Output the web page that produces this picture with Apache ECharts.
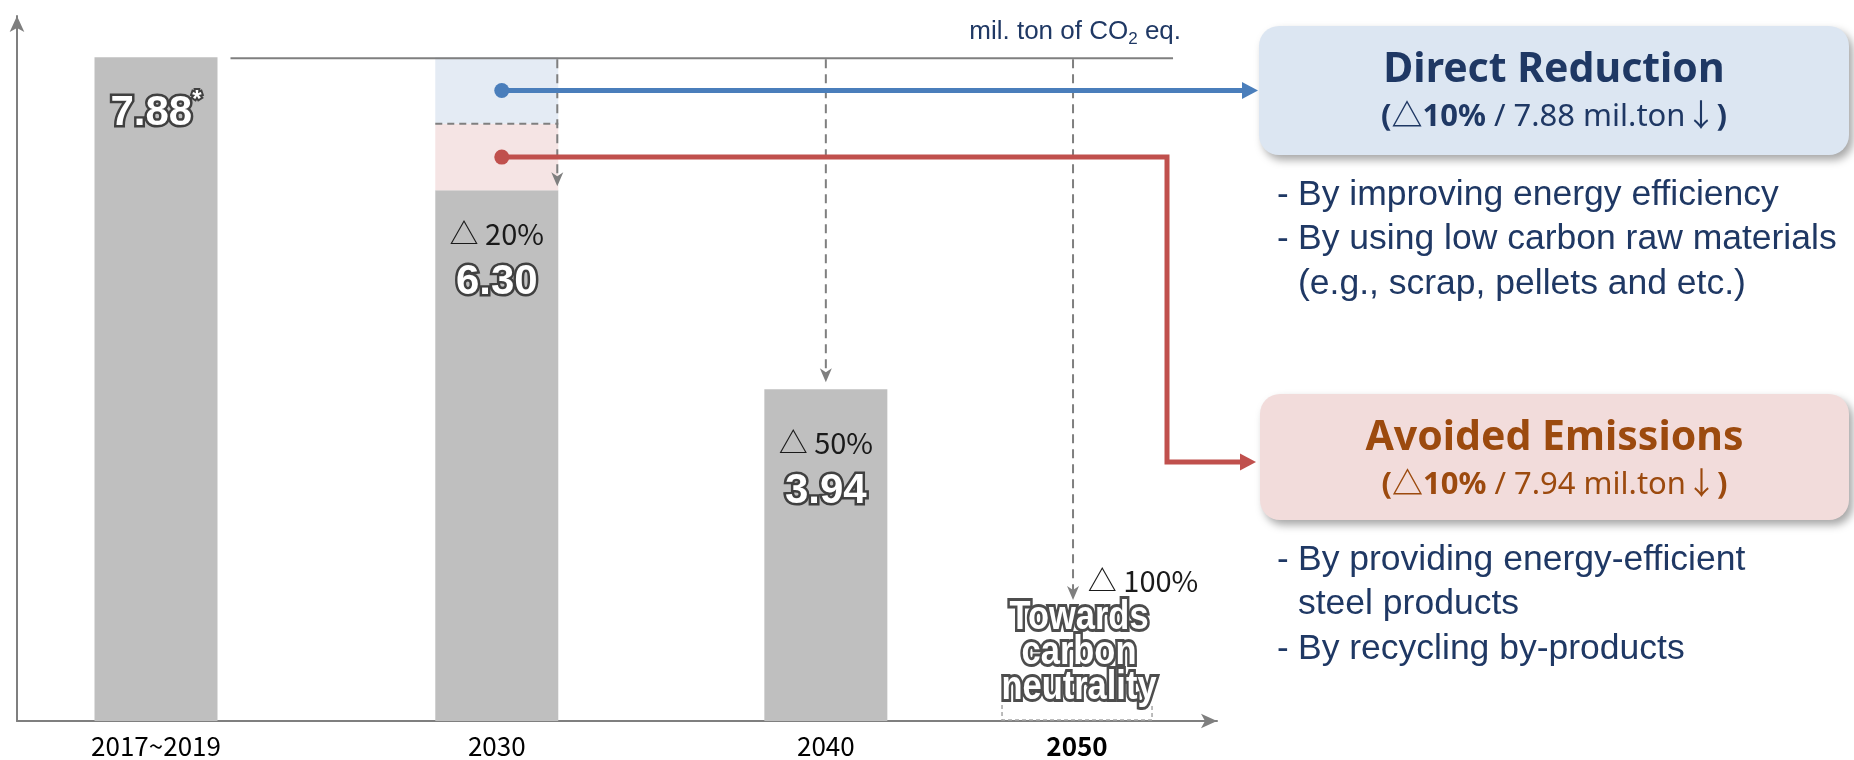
<!DOCTYPE html>
<html lang="en">
<head>
<meta charset="utf-8">
<title>CO2 emission reduction roadmap</title>
<script src="https://cdn.jsdelivr.net/npm/echarts@6.0.0/dist/echarts.min.js"></script>
<style>
  html, body { margin: 0; padding: 0; background: #ffffff; }
  #chart { width: 1854px; height: 760px; }
</style>
</head>
<body>
<div id="chart"></div>
<script>
// ---- data ---------------------------------------------------------------
const categories   = ['2017~2019', '2030', '2040', '2050'];
const emissions    = [7.88, 6.30, 3.94, 0];            // mil. ton of CO2 eq.
const reductionPct = [null, 20, 50, 100];              // cut vs. the 2017~2019 base
const avoided2030  = 0.79;                             // avoided-emissions part of the 2030 cut
const direct2030   = 0.79;                             // direct-reduction part of the 2030 cut
const neutralityLines = ['Towards', 'carbon', 'neutrality'];
const unitParts    = ['mil. ton of CO', '2', ' eq.'];
const leverTitles  = ['Direct Reduction', 'Avoided Emissions'];
const leverPct     = [10, 10];
const leverAmounts = [7.88, 7.94];
const leverBullets = [
  [['By improving energy efficiency'], ['By using low carbon raw materials', '(e.g., scrap, pellets and etc.)']],
  [['By providing energy-efficient', 'steel products'], ['By recycling by-products']]
];

// ---- layout & style -----------------------------------------------------
const SLOT = [0, 4.07, 8, 11];           // spacing of the periods along the time axis
const SLOT_PX = 83.73, FIRST_CENTER = 156;
const GRID = { left: 17, top: 16, right: 637, bottom: 39 };
const X_MIN = (GRID.left - FIRST_CENTER) / SLOT_PX;
const X_MAX = (1854 - GRID.right - FIRST_CENTER) / SLOT_PX;
const Y_MAX = 8.37;
const BAR_W = 123;
const LABEL_DIST = [31, 21, 31, 120];

const AXIS = '#7F7F7F', BAR = '#BFBFBF';
const BLUE = '#4A7EBB', RED = '#C0504D';
const BLUE_FILL = '#E4EBF4', PINK_FILL = '#F5E4E4';
const BOX_FILL = ['#DCE6F2', '#F2DCDB'];
const NAVY = '#1F3864', BROWN = '#9C4A0E';
const TITLE_COLOR = [NAVY, BROWN];
const FONT_NUM = "'Liberation Sans', Arial, sans-serif";
const FONT_KR = "'Noto Sans CJK KR', 'Noto Sans', sans-serif";
const FONT_BOX = "'Noto Sans', 'Noto Sans CJK KR', sans-serif";
const FONT_BODY = "'Liberation Sans', Arial, sans-serif";

const outlined = {
  color: '#ffffff', fontFamily: FONT_NUM, fontWeight: 'bold',
  textBorderColor: '#404040', textBorderWidth: 5
};

function slotIndex(v) {
  let best = -1, d = Infinity;
  SLOT.forEach((s, i) => { if (Math.abs(s - v) < d) { d = Math.abs(s - v); best = i; } });
  return d < 0.01 ? best : -1;
}

function barLabel(i) {
  const val = emissions[i].toFixed(2);
  if (reductionPct[i] === null) return '{v|' + val + '}{s|*}';
  if (emissions[i] === 0) return '{dd|△ ' + reductionPct[i] + '%}';
  return '{d|△ ' + reductionPct[i] + '%}\n{v|' + val + '}';
}

const chart = echarts.init(document.getElementById('chart'), null, { renderer: 'canvas' });

const option = {
  animation: false,
  backgroundColor: '#ffffff',
  grid: GRID,
  xAxis: {
    type: 'value', min: X_MIN, max: X_MAX,
    splitLine: { show: false }, axisTick: { show: false },
    axisLine: { onZero: false, lineStyle: { color: AXIS, width: 2 }, symbol: ['none', 'arrow'], symbolSize: [11, 16] },
    axisLabel: {
      customValues: SLOT, margin: 12, fontFamily: FONT_KR, fontSize: 26, color: '#000',
      formatter: v => {
        const i = slotIndex(v);
        if (i < 0) return '';
        return i === categories.length - 1 ? '{b|' + categories[i] + '}' : categories[i];
      },
      rich: { b: { fontFamily: FONT_KR, fontSize: 26, fontWeight: 'bold', color: '#000' } }
    }
  },
  yAxis: {
    type: 'value', min: 0, max: Y_MAX,
    splitLine: { show: false }, axisTick: { show: false }, axisLabel: { show: false },
    axisLine: { show: true, onZero: false, lineStyle: { color: AXIS, width: 2 }, symbol: ['none', 'arrow'], symbolSize: [11, 16] }
  },
  series: [
    {
      name: 'Emissions', type: 'bar', barWidth: BAR_W, z: 2,
      itemStyle: { color: BAR },
      label: {
        show: true,
        formatter: p => barLabel(p.dataIndex),
        rich: {
          v: Object.assign({}, outlined, { fontSize: 42, lineHeight: 50 }),
          s: Object.assign({}, outlined, { fontSize: 24, lineHeight: 22, verticalAlign: 'top', textBorderWidth: 4 }),
          d: { fontFamily: FONT_KR, fontWeight: 'normal', fontSize: 29, lineHeight: 46, color: '#1a1a1a' },
          dd: { fontFamily: FONT_KR, fontWeight: 'normal', fontSize: 29, lineHeight: 41, color: '#1a1a1a', padding: [0, 0, 0, 132] }
        }
      },
      data: categories.map((c, i) => ({
        value: [SLOT[i], emissions[i]],
        label: { position: emissions[i] === 0 ? 'top' : 'insideTop', distance: LABEL_DIST[i] }
      }))
    },
    {
      // 2030 cut split into its two levers, stacked on top of the 2030 bar
      name: '2030 levers', type: 'custom', z: 3,
      encode: { x: 0, y: [1, 2] },
      data: [
        [SLOT[1], emissions[1], emissions[1] + avoided2030, 1],
        [SLOT[1], emissions[1] + avoided2030, emissions[1] + avoided2030 + direct2030, 0]
      ],
      renderItem: (params, api) => {
        const lo = api.coord([api.value(0), api.value(1)]);
        const hi = api.coord([api.value(0), api.value(2)]);
        const isDirect = api.value(3) === 0;
        const rect = {
          type: 'rect',
          shape: { x: lo[0] - BAR_W / 2, y: hi[1], width: BAR_W, height: lo[1] - hi[1] },
          style: { fill: isDirect ? BLUE_FILL : PINK_FILL }
        };
        if (!isDirect) return rect;
        return {
          type: 'group',
          children: [rect, {
            type: 'line',
            shape: { x1: lo[0] - BAR_W / 2, y1: lo[1], x2: lo[0] + BAR_W / 2, y2: lo[1] },
            style: { stroke: AXIS, lineWidth: 2, lineDash: [7, 5] }
          }]
        };
      }
    }
  ]
};

chart.setOption(option);

// ---- annotations laid over the chart --------------------------------------
const px = (slot, v) => chart.convertToPixel({ gridIndex: 0 }, [slot, v]);
const axisY = px(SLOT[0], 0)[1];
const refPt = px(SLOT[0], emissions[0]);
const refY = refPt[1] + 1;
const refX1 = refPt[0] + BAR_W / 2 + 13;
const refX2 = px(SLOT[3], 0)[0] + 96;
const graphics = [];

// reference level of the base period
graphics.push({ type: 'line', z: 40, shape: { x1: refX1, y1: refY, x2: refX2, y2: refY }, style: { stroke: AXIS, lineWidth: 2 } });

// unit note
graphics.push({
  type: 'text', z: 40, x: refX2 + 8, y: refY - 26,
  style: {
    text: '{t|' + unitParts[0] + '}{sub|' + unitParts[1] + '}{t|' + unitParts[2] + '}',
    align: 'right', verticalAlign: 'middle',
    rich: {
      t: { fontFamily: FONT_BODY, fontSize: 26, lineHeight: 30, fill: NAVY },
      sub: { fontFamily: FONT_BODY, fontSize: 17, lineHeight: 30, padding: [14, 0, 0, 0], fill: NAVY }
    }
  }
});

function dashedArrow(x, y1, y2) {
  return [
    { type: 'line', z: 50, shape: { x1: x, y1: y1, x2: x, y2: y2 - 8 }, style: { stroke: AXIS, lineWidth: 2, lineDash: [9, 6] } },
    { type: 'polygon', z: 50, shape: { points: [[x, y2], [x - 6, y2 - 14], [x, y2 - 10], [x + 6, y2 - 14]] }, style: { fill: AXIS } }
  ];
}
const p2030 = px(SLOT[1], emissions[1]);
const p2040 = px(SLOT[2], emissions[2]);
const p2050 = px(SLOT[3], emissions[3]);
graphics.push(...dashedArrow(p2030[0] + BAR_W / 2 - 1, refY + 1, p2030[1] - 4));
graphics.push(...dashedArrow(p2040[0], refY + 1, p2040[1] - 7));
graphics.push(...dashedArrow(p2050[0] - 4, refY + 1, axisY - 121));

// dashed footprint of the 2050 column and its note
graphics.push({
  type: 'polyline', z: 1,
  shape: { points: [[p2050[0] - 75, axisY - 16], [p2050[0] - 75, axisY - 1], [p2050[0] + 75, axisY - 1], [p2050[0] + 75, axisY - 16]] },
  style: { stroke: '#A6A6A6', lineWidth: 1.5, lineDash: [4, 3], fill: null }
});
neutralityLines.forEach((t, k) => {
  graphics.push({
    type: 'text', z: 45, x: p2050[0] + 2, y: axisY - 33 - 35 * (neutralityLines.length - 1 - k), scaleX: 0.84,
    style: {
      text: t, fill: '#ffffff', stroke: '#4d4d4d', lineWidth: 6, strokeFirst: true,
      fontFamily: FONT_NUM, fontWeight: 'bold', fontSize: 41, align: 'center', verticalAlign: 'middle'
    }
  });
});

// lever boxes
const BOXES = [
  { x: 1259, y: 26, w: 590, h: 129 },
  { x: 1260, y: 394, w: 589, h: 126 }
];
BOXES.forEach((b, k) => {
  const cx = b.x + b.w / 2;
  graphics.push({
    type: 'rect', z: 20, shape: { x: b.x, y: b.y, width: b.w, height: b.h, r: 20 },
    style: { fill: BOX_FILL[k], shadowBlur: 8, shadowOffsetX: 4, shadowOffsetY: 5, shadowColor: 'rgba(0,0,0,0.35)' }
  });
  graphics.push({
    type: 'text', z: 21, x: cx, y: b.y + 44,
    style: { text: leverTitles[k], fill: TITLE_COLOR[k], fontFamily: FONT_BOX, fontWeight: 'bold', fontSize: 41, align: 'center', verticalAlign: 'middle' }
  });
  graphics.push({
    type: 'text', z: 21, x: cx, y: b.y + 91,
    style: {
      text: '{p|(}{b|△' + leverPct[k] + '%}{n| / ' + leverAmounts[k].toFixed(2) + ' mil.ton↓}{p|)}',
      align: 'center', verticalAlign: 'middle',
      rich: {
        p: { fontFamily: FONT_BOX, fontWeight: 'bold', fontSize: 31, fill: TITLE_COLOR[k] },
        b: { fontFamily: FONT_BOX, fontWeight: 'bold', fontSize: 31, fill: TITLE_COLOR[k] },
        n: { fontFamily: FONT_BOX, fontWeight: 'normal', fontSize: 31, fill: TITLE_COLOR[k] }
      }
    }
  });
  let line = 0;
  leverBullets[k].forEach(item => {
    item.forEach((t, j) => {
      const y = b.y + b.h + 40 + line * 44.5;
      if (j === 0) {
        graphics.push({ type: 'text', z: 21, x: 1277, y: y, style: { text: '-', fill: NAVY, fontFamily: FONT_BODY, fontSize: 35, align: 'left', verticalAlign: 'middle' } });
      }
      graphics.push({ type: 'text', z: 21, x: 1298, y: y, style: { text: t, fill: NAVY, fontFamily: FONT_BODY, fontSize: 35.5, align: 'left', verticalAlign: 'middle' } });
      line++;
    });
  });
});

// connectors from the 2030 levers to their boxes
const blueDot = px(SLOT[1], emissions[1] + avoided2030 + direct2030 / 2);
const redDot = px(SLOT[1], emissions[1] + avoided2030 / 2);
const dotX = blueDot[0] + 5;
const ELBOW_X = 1167;
const redY2 = BOXES[1].y + 68;
const tip1 = BOXES[0].x - 1, tip2 = BOXES[1].x - 4;
graphics.push({ type: 'line', z: 60, shape: { x1: dotX, y1: blueDot[1], x2: tip1 - 14, y2: blueDot[1] }, style: { stroke: BLUE, lineWidth: 5 } });
graphics.push({ type: 'polygon', z: 60, shape: { points: [[tip1, blueDot[1]], [tip1 - 16, blueDot[1] - 8.5], [tip1 - 16, blueDot[1] + 8.5]] }, style: { fill: BLUE } });
graphics.push({ type: 'circle', z: 61, shape: { cx: dotX, cy: blueDot[1], r: 7.5 }, style: { fill: BLUE } });
graphics.push({
  type: 'polyline', z: 60,
  shape: { points: [[dotX, redDot[1]], [ELBOW_X, redDot[1]], [ELBOW_X, redY2], [tip2 - 14, redY2]] },
  style: { stroke: RED, lineWidth: 5, fill: null, lineJoin: 'miter' }
});
graphics.push({ type: 'polygon', z: 60, shape: { points: [[tip2, redY2], [tip2 - 16, redY2 - 8.5], [tip2 - 16, redY2 + 8.5]] }, style: { fill: RED } });
graphics.push({ type: 'circle', z: 61, shape: { cx: dotX, cy: redDot[1], r: 7.5 }, style: { fill: RED } });

chart.setOption({ graphic: { elements: graphics } });
</script>
</body>
</html>
